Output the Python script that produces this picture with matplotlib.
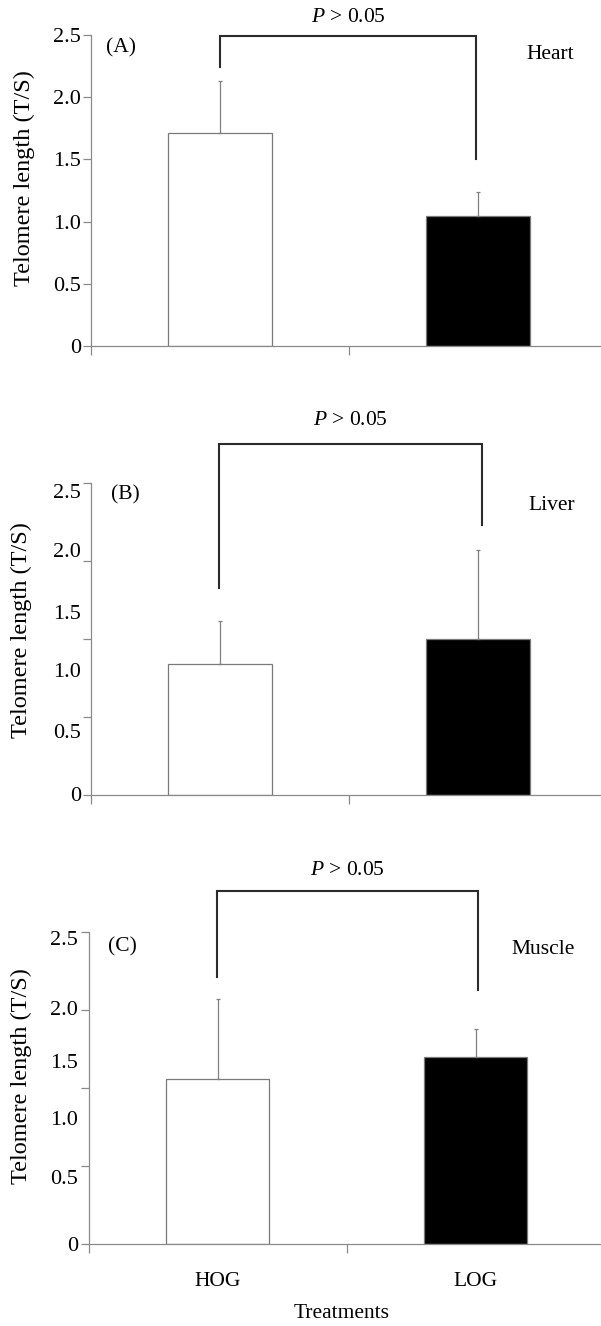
import numpy as np
import matplotlib
matplotlib.use('Agg')
import matplotlib.pyplot as plt

plt.rcParams['font.family'] = ['Liberation Serif', 'DejaVu Serif']
plt.rcParams['mathtext.fontset'] = 'custom'
plt.rcParams['mathtext.rm'] = 'Liberation Serif'
plt.rcParams['mathtext.it'] = 'Liberation Serif:italic'

# data (units of each panel's tick marks)
treatments = ['HOG', 'LOG']
tissues = ['Heart', 'Liver', 'Muscle']
panel_tags = ['(A)', '(B)', '(C)']

heart_mean = [1.715, 1.047]
heart_err = [0.415, 0.188]
liver_mean = [0.838, 1.000]
liver_err = [0.275, 0.569]
muscle_mean = [1.060, 1.200]
muscle_err = [0.511, 0.179]

ytick_labels = ['0', '0.5', '1.0', '1.5', '2.0', '2.5']
p_text = r'$P$ > 0.05'

# panel layout (pixels in a 601x1326 canvas) and annotation spots
W, H = 601, 1326
panels = [
    dict(mean=heart_mean, err=heart_err, rect=(91, 35, 516, 311), ymax=2.5,
         marks=[0, 0.5, 1.0, 1.5, 2.0, 2.5], labpos=None,
         bracket=(0.5, 1.492, 2.494, 2.245, 1.503), p_y=2.64,
         tag=(0.116, 2.40), name=(1.779, 2.34), ylab=(-0.108, 0.54)),
    dict(mean=liver_mean, err=liver_err, rect=(91, 482.7, 516, 312.6), ymax=2.0,
         marks=[0, 0.5, 1.0, 1.5, 2.0], labpos=[0.01, 0.41, 0.80, 1.17, 1.57, 1.95],
         bracket=(0.498, 1.516, 2.246, 1.328, 1.727), p_y=2.40,
         tag=(0.134, 1.921), name=(1.785, 1.857), ylab=(-0.114, 0.529)),
    dict(mean=muscle_mean, err=muscle_err, rect=(88.5, 931.7, 516, 312.6), ymax=2.0,
         marks=[0, 0.5, 1.0, 1.5, 2.0], labpos=[0.0, 0.43, 0.81, 1.17, 1.51, 1.96],
         bracket=(0.499, 1.508, 2.258, 1.712, 1.627), p_y=2.39,
         tag=(0.132, 1.902), name=(1.764, 1.883), ylab=(-0.110, 0.538)),
]

axis_grey = '#8a8a8a'
fs = 15.5

fig = plt.figure(figsize=(W / 100, H / 100), dpi=100)

for i, p in enumerate(panels):
    x0, ytop, w, h = p['rect']
    ax = fig.add_axes([x0 / W, 1 - (ytop + h) / H, w / W, h / H])
    xpos = np.arange(len(treatments)) + 0.5
    ax.bar(xpos, p['mean'], width=0.4, color=['white', 'black'],
           edgecolor='#7a7a7a', linewidth=0.9,
           yerr=[[0, 0], p['err']],
           error_kw=dict(ecolor='#808080', elinewidth=0.9, capsize=1.3, capthick=0.9),
           zorder=2)

    ax.set_xlim(0, 2)
    ax.set_ylim(0, p['ymax'])
    for s in ['top', 'right']:
        ax.spines[s].set_visible(False)
    for s in ['left', 'bottom']:
        ax.spines[s].set_color(axis_grey)
        ax.spines[s].set_linewidth(0.9)

    ax.xaxis.remove_overlapping_locs = False
    ax.yaxis.remove_overlapping_locs = False

    ax.set_xticks([0, 1, 2])
    ax.set_xticklabels([])
    ax.tick_params(axis='x', which='major', direction='out', length=6.5,
                   width=0.9, color=axis_grey)

    ax.set_yticks(p['marks'])
    if p['labpos'] is None:
        ax.set_yticklabels(ytick_labels)
        ax.tick_params(axis='y', which='major', direction='out', length=5.8,
                       width=0.9, color=axis_grey, labelsize=16, pad=1.5)
    else:
        ax.set_yticklabels([])
        ax.tick_params(axis='y', which='major', direction='out', length=5.8,
                       width=0.9, color=axis_grey)
        ax.set_yticks(p['labpos'], minor=True)
        ax.set_yticklabels(ytick_labels, minor=True)
        ax.tick_params(axis='y', which='minor', length=0, labelsize=16, pad=7.3)

    ax.set_ylabel('Telomere length (T/S)', fontsize=17.5)
    ax.yaxis.set_label_coords(*p['ylab'])

    # significance bracket
    xl, xr, yt, yle, yre = p['bracket']
    ax.plot([xl, xl, xr, xr], [yle, yt, yt, yre], color='#2b2b2b', lw=1.5,
            clip_on=False, solid_joinstyle='miter', zorder=3)
    ax.text((xl + xr) / 2, p['p_y'], p_text, ha='center', va='center',
            fontsize=fs, clip_on=False)

    ax.text(*p['tag'], panel_tags[i], ha='center', va='center', fontsize=fs)
    ax.text(*p['name'], tissues[i], ha='center', va='center', fontsize=fs)

    if i == len(panels) - 1:
        ax.set_xticks(xpos, minor=True)
        ax.set_xticklabels(treatments, minor=True)
        ax.tick_params(axis='x', which='minor', length=0, labelsize=fs, pad=20)
        ax.set_xlabel('Treatments', fontsize=fs)
        ax.xaxis.set_label_coords(0.491, -0.19)

fig.savefig('out.png', dpi=100)
